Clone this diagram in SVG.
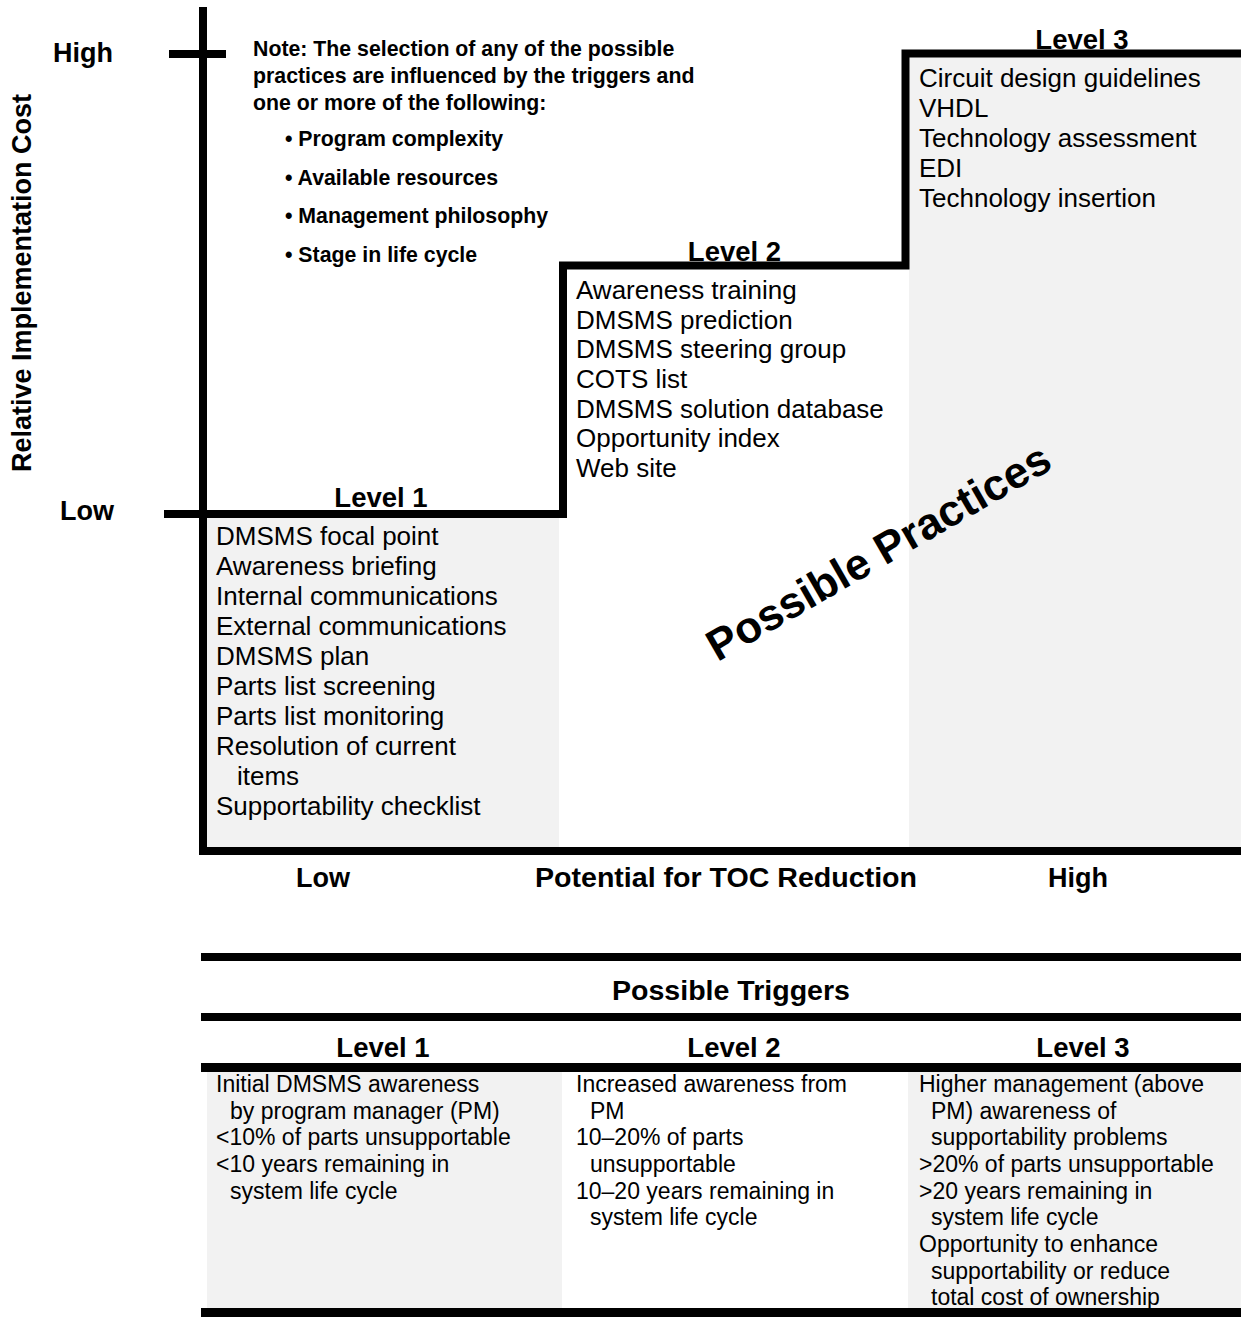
<svg xmlns="http://www.w3.org/2000/svg" width="1241" height="1322" viewBox="0 0 1241 1322">
<style>
text{font-family:"Liberation Sans",Arial,sans-serif;fill:#000}
.b{font-weight:bold}
.ax{font-size:27px;font-weight:bold}
.lvl{font-size:27.5px;font-weight:bold;text-anchor:middle}
.note{font-size:21.3px;font-weight:bold}
.pr{font-size:26px}
.tr{font-size:23px}
.gray{fill:#f2f2f2}
.bar{fill:#000}
</style>
<rect width="1241" height="1322" fill="#fff"/>
<g id="fills">
<rect class="gray" x="207" y="518" width="352" height="329"/>
<rect class="gray" x="909" y="57" width="332" height="790"/>
<rect class="gray" x="207" y="1072" width="355" height="236"/>
<rect class="gray" x="908" y="1072" width="333" height="236"/>
</g>
<g id="connectors">
<rect class="bar" x="199" y="7" width="8" height="848"/>
<rect class="bar" x="199" y="847" width="1042" height="8"/>
<rect class="bar" x="169" y="50" width="57" height="8"/>
<path d="M164 514 H563 V265.5 H905.5 V53.5 H1241" fill="none" stroke="#000" stroke-width="8" stroke-linejoin="miter"/>
<rect class="bar" x="201" y="953" width="1040" height="8"/>
<rect class="bar" x="201" y="1013" width="1040" height="8"/>
<rect class="bar" x="201" y="1063" width="1040" height="9"/>
<rect class="bar" x="201" y="1308" width="1040" height="9"/>
</g>
<g id="axis-y">
<text class="ax" x="53" y="62">High</text>
<text class="ax" x="60" y="520">Low</text>
<text class="ax" text-anchor="middle" transform="translate(31,283) rotate(-90)">Relative Implementation Cost</text>
</g>
<g id="axis-x">
<text class="ax" x="323" y="887" text-anchor="middle">Low</text>
<text class="ax" x="535" y="887" textLength="382" lengthAdjust="spacingAndGlyphs">Potential for TOC Reduction</text>
<text class="ax" x="1078" y="887" text-anchor="middle">High</text>
</g>
<g id="note">
<text class="note" x="253" y="56">Note: The selection of any of the possible</text>
<text class="note" x="253" y="83">practices are influenced by the triggers and</text>
<text class="note" x="253" y="110">one or more of the following:</text>
<text class="note" x="285" y="146">• Program complexity</text>
<text class="note" x="285" y="185">• Available resources</text>
<text class="note" x="285" y="223">• Management philosophy</text>
<text class="note" x="285" y="262">• Stage in life cycle</text>
</g>
<g id="level1">
<text class="lvl" x="381" y="507">Level 1</text>
<text class="pr" x="216" y="545">DMSMS focal point</text>
<text class="pr" x="216" y="575">Awareness briefing</text>
<text class="pr" x="216" y="605">Internal communications</text>
<text class="pr" x="216" y="635">External communications</text>
<text class="pr" x="216" y="665">DMSMS plan</text>
<text class="pr" x="216" y="695">Parts list screening</text>
<text class="pr" x="216" y="725">Parts list monitoring</text>
<text class="pr" x="216" y="755">Resolution of current</text>
<text class="pr" x="237" y="785">items</text>
<text class="pr" x="216" y="815">Supportability checklist</text>
</g>
<g id="level2">
<text class="lvl" x="734.5" y="261">Level 2</text>
<text class="pr" x="576" y="299">Awareness training</text>
<text class="pr" x="576" y="329">DMSMS prediction</text>
<text class="pr" x="576" y="358">DMSMS steering group</text>
<text class="pr" x="576" y="388">COTS list</text>
<text class="pr" x="576" y="418">DMSMS solution database</text>
<text class="pr" x="576" y="447">Opportunity index</text>
<text class="pr" x="576" y="477">Web site</text>
</g>
<g id="level3">
<text class="lvl" x="1082" y="49">Level 3</text>
<text class="pr" x="919" y="87">Circuit design guidelines</text>
<text class="pr" x="919" y="117">VHDL</text>
<text class="pr" x="919" y="147">Technology assessment</text>
<text class="pr" x="919" y="177">EDI</text>
<text class="pr" x="919" y="207">Technology insertion</text>
</g>
<g id="possible-practices">
<text class="b" font-size="44" text-anchor="middle" transform="translate(886,565) rotate(-30)">Possible Practices</text>
</g>
<g id="triggers">
<text class="lvl" x="612" y="1000" style="text-anchor:start" textLength="238" lengthAdjust="spacingAndGlyphs">Possible Triggers</text>
<text class="lvl" x="383" y="1057">Level 1</text>
<text class="lvl" x="734" y="1057">Level 2</text>
<text class="lvl" x="1083" y="1057">Level 3</text>
<text class="tr" x="216" y="1092">Initial DMSMS awareness</text>
<text class="tr" x="230" y="1118.7">by program manager (PM)</text>
<text class="tr" x="216" y="1145.3">&lt;10% of parts unsupportable</text>
<text class="tr" x="216" y="1172">&lt;10 years remaining in</text>
<text class="tr" x="230" y="1198.7">system life cycle</text>
<text class="tr" x="576" y="1092">Increased awareness from</text>
<text class="tr" x="590" y="1118.7">PM</text>
<text class="tr" x="576" y="1145.3">10–20% of parts</text>
<text class="tr" x="590" y="1172">unsupportable</text>
<text class="tr" x="576" y="1198.7">10–20 years remaining in</text>
<text class="tr" x="590" y="1225.3">system life cycle</text>
<text class="tr" x="919" y="1092">Higher management (above</text>
<text class="tr" x="931" y="1118.7">PM) awareness of</text>
<text class="tr" x="931" y="1145.3">supportability problems</text>
<text class="tr" x="919" y="1172">&gt;20% of parts unsupportable</text>
<text class="tr" x="919" y="1198.7">&gt;20 years remaining in</text>
<text class="tr" x="931" y="1225.3">system life cycle</text>
<text class="tr" x="919" y="1252">Opportunity to enhance</text>
<text class="tr" x="931" y="1278.7">supportability or reduce</text>
<text class="tr" x="931" y="1305.3">total cost of ownership</text>
</g>
</svg>
